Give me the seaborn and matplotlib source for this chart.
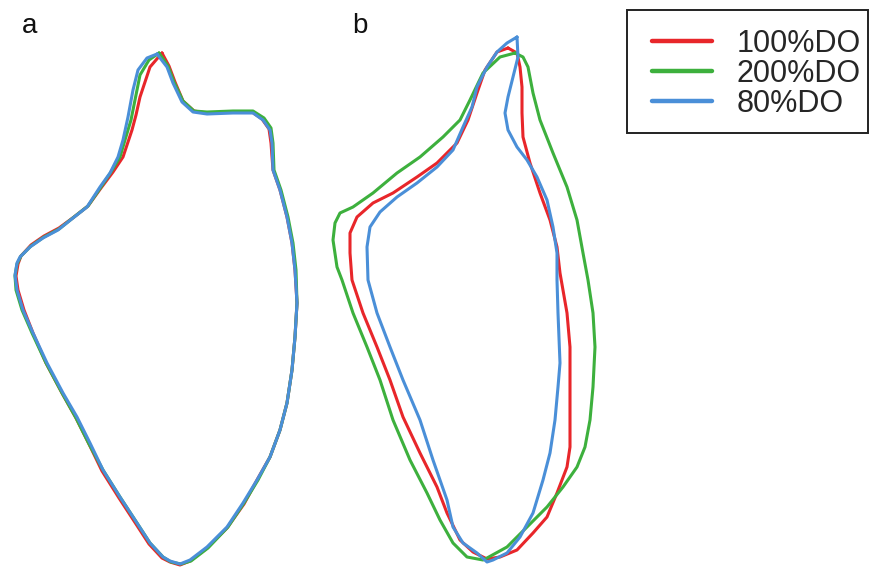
import matplotlib
matplotlib.use("Agg")
import matplotlib.pyplot as plt
import seaborn as sns
from matplotlib.lines import Line2D
from matplotlib.patches import Rectangle

sns.set_theme(style="white")
plt.rcParams["font.family"] = ["Liberation Sans", "DejaVu Sans"]

# Outline traces (canvas pixel coordinates, y grows downward)
treatments = ["100%DO", "200%DO", "80%DO"]
colors = ["#E8262A", "#3DB03D", "#4A8FD8"]

# Panel a
a_80_x = [157, 167, 173, 182, 193, 207, 233, 253, 263, 270, 272, 273, 280, 287, 292, 295, 297, 295, 292, 287, 280, 270, 257, 243, 227, 207, 190, 180,
          170, 163, 150, 137, 120, 103, 90, 77, 63, 47, 33, 23, 17, 15, 17, 20, 30, 43, 58, 73, 87, 100, 110, 118, 123, 128, 133, 138, 147]
a_80_y = [54, 67, 83, 102, 112, 114, 113, 113, 120, 130, 143, 170, 190, 217, 243, 270, 303, 337, 370, 403, 430, 457, 480, 503, 527, 547, 560, 564,
          561, 557, 543, 523, 497, 470, 443, 417, 393, 363, 333, 310, 290, 275, 263, 257, 247, 238, 230, 218, 207, 187, 173, 157, 140, 117, 90, 70, 58]
a_100_x = [162, 169, 175, 183, 194, 207, 233, 252, 262, 269, 271, 273, 280, 287, 292, 295, 297, 295, 292, 287, 280, 270, 257, 244, 227, 207, 190, 180,
           170, 162, 149, 136, 119, 102, 89, 76, 62, 46, 33, 24, 18, 16, 18, 21, 31, 44, 59, 74, 88, 101, 113, 123, 127, 132, 136, 140, 150]
a_100_y = [53, 66, 82, 101, 111, 113, 112, 112, 119, 129, 143, 170, 190, 217, 243, 270, 303, 337, 370, 403, 430, 457, 480, 504, 528, 548, 561, 565,
           562, 558, 544, 524, 498, 471, 444, 418, 393, 363, 333, 310, 290, 276, 264, 256, 245, 236, 228, 217, 206, 188, 172, 157, 145, 130, 115, 97, 67]
a_200_x = [159, 168, 174, 183, 194, 207, 233, 253, 264, 271, 273, 274, 281, 288, 293, 296, 297, 295, 292, 287, 280, 270, 258, 244, 228, 208, 191, 181,
           171, 163, 150, 137, 120, 103, 89, 76, 62, 46, 32, 22, 16, 15, 17, 21, 31, 44, 59, 74, 88, 101, 111, 120, 125, 131, 135, 140, 149]
a_200_y = [53, 66, 82, 101, 111, 112, 111, 111, 118, 128, 143, 170, 190, 217, 243, 270, 303, 337, 370, 403, 430, 457, 480, 503, 527, 548, 561, 564,
           562, 557, 543, 523, 497, 470, 444, 418, 393, 363, 333, 310, 290, 276, 264, 256, 246, 237, 229, 217, 206, 187, 172, 157, 140, 120, 100, 75, 60]

# Panel b
b_80_x = [517, 518, 513, 508, 505, 508, 517, 527, 537, 547, 553, 557, 557, 558, 560, 558, 555, 550, 543, 533, 520, 507, 493, 487,
          477, 463, 453, 447, 433, 420, 403, 390, 377, 368, 367, 370, 380, 397, 417, 437, 453, 463, 472, 477, 487, 497, 507]
b_80_y = [37, 57, 77, 97, 113, 130, 147, 160, 177, 200, 227, 253, 280, 313, 363, 387, 420, 453, 480, 513, 537, 553, 560, 562,
          553, 543, 527, 500, 460, 420, 380, 347, 313, 280, 247, 227, 212, 197, 183, 167, 150, 127, 107, 87, 67, 52, 43]
b_100_x = [508, 517, 520, 522, 522, 523, 530, 540, 550, 557, 560, 567, 570, 570, 570, 567, 557, 547, 533, 517, 500, 487,
           473, 460, 447, 437, 420, 403, 390, 377, 363, 352, 350, 350, 357, 373, 393, 417, 437, 457, 468, 477, 485, 497]
b_100_y = [48, 53, 67, 87, 113, 137, 163, 193, 220, 247, 273, 313, 347, 397, 447, 467, 493, 517, 533, 550, 557, 559,
           552, 540, 513, 487, 453, 417, 380, 347, 313, 280, 253, 233, 217, 203, 193, 177, 163, 143, 120, 93, 70, 52]
b_200_x = [515, 523, 528, 533, 540, 553, 567, 577, 583, 588, 593, 595, 593, 590, 585, 577, 563, 547, 527, 507, 487, 483,
           467, 453, 440, 427, 410, 393, 380, 367, 353, 342, 337, 333, 335, 340, 353, 373, 397, 420, 443, 460, 470, 483, 500]
b_200_y = [53, 57, 67, 93, 120, 153, 187, 220, 253, 280, 313, 347, 387, 420, 447, 467, 487, 507, 527, 547, 558, 560,
           557, 543, 520, 493, 460, 420, 380, 347, 313, 280, 267, 240, 223, 213, 207, 193, 173, 157, 137, 120, 100, 73, 57]

panel_a = [(a_100_x, a_100_y), (a_200_x, a_200_y), (a_80_x, a_80_y)]
panel_b = [(b_100_x, b_100_y), (b_200_x, b_200_y), (b_80_x, b_80_y)]

fig = plt.figure(figsize=(8.7, 5.68), dpi=100)
ax = fig.add_axes([0, 0, 1, 1])

for panel in (panel_a, panel_b):
    for (xs, ys), color in zip(panel, colors):
        xs_c = list(xs) + [xs[0]]
        ys_c = list(ys) + [ys[0]]
        sns.lineplot(x=xs_c, y=ys_c, sort=False, estimator=None, color=color,
                     linewidth=2.2, ax=ax, legend=False)

ax.set_xlim(0, 870)
ax.set_ylim(568, 0)
ax.axis("off")

ax.text(30, 33, "a", fontsize=20, ha="center", va="baseline", color="#111111")
ax.text(360, 33, "b", fontsize=20, ha="center", va="baseline", color="#111111")

# Legend box
ax.add_patch(Rectangle((627, 10), 241, 123, fill=False, edgecolor="#222222",
                       linewidth=1.4, zorder=5))
handles = [Line2D([], [], color=c, linewidth=3.2, solid_capstyle="round") for c in colors]
leg = ax.legend(handles, treatments, loc="upper left",
                bbox_to_anchor=(652 / 870, 1 - 29 / 568), bbox_transform=fig.transFigure,
                fontsize=22, frameon=False, handlelength=1.96,
                handletextpad=0.8, labelspacing=0.0, borderpad=0, borderaxespad=0)

fig.savefig("out.png", dpi=100)
